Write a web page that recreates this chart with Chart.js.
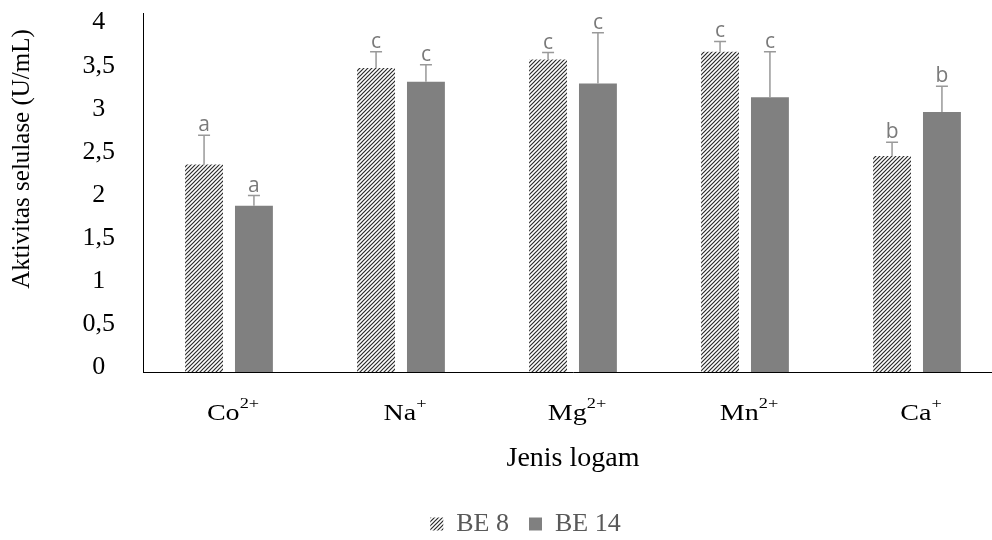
<!DOCTYPE html>
<html>
<head>
<meta charset="utf-8">
<script src="https://cdn.jsdelivr.net/npm/chart.js@4.4.1/dist/chart.umd.min.js"></script>
<style>
  html, body { margin: 0; padding: 0; background: #fff; overflow: hidden; }
  #wrap { width: 1050px; height: 540px; }
</style>
</head>
<body>
<div id="wrap"><canvas id="chart" width="1050" height="540"></canvas></div>
<script>
const metals = ['Co', 'Na', 'Mg', 'Mn', 'Ca'];
const charges = ['2+', '+', '2+', '2+', '+'];
const be8 = [2.41, 3.53, 3.63, 3.72, 2.51];
const be8Err = [0.34, 0.19, 0.08, 0.12, 0.16];
const be8Letters = ['a', 'c', 'c', 'c', 'b'];
const be14 = [1.93, 3.37, 3.35, 3.19, 3.02];
const be14Err = [0.12, 0.20, 0.59, 0.53, 0.30];
const be14Letters = ['a', 'c', 'c', 'c', 'b'];
const yTicks = [0, 0.5, 1, 1.5, 2, 2.5, 3, 3.5, 4];
const yTitle = 'Aktivitas selulase (U/mL)';

const supMap = { '2': '\u00B2', '+': '\u207A' };
const labels = metals.map((m, i) => m + charges[i].split('').map(c => supMap[c]).join(''));

function makeHatch() {
    const c = document.createElement('canvas');
    c.width = 4;
    c.height = 4;
    const g = c.getContext('2d');
    g.fillStyle = '#fff';
    g.fillRect(0, 0, 4, 4);
    g.strokeStyle = '#2b2b2b';
    g.lineWidth = 1.2;
    g.beginPath();
    g.moveTo(-1, 5); g.lineTo(5, -1);
    g.moveTo(-1, 1); g.lineTo(1, -1);
    g.moveTo(3, 5); g.lineTo(5, 3);
    g.stroke();
    return g.createPattern(c, 'repeat');
}

const hatch = makeHatch();

// fixed legend height, nudged right to sit where the original has it
const legendPlacePlugin = {
    id: 'legendPlace',
    beforeInit(chart) {
        const originalFit = chart.legend.fit;
        chart.legend.fit = function fit() {
            originalFit.bind(chart.legend)();
            this.height = 49;
        };
        const originalDraw = chart.legend.draw;
        chart.legend.draw = function draw() {
            chart.ctx.save();
            chart.ctx.translate(24, 0);
            originalDraw.apply(chart.legend, arguments);
            chart.ctx.restore();
        };
    }
};

// error bars + letters
const errorBarPlugin = {
    id: 'errorBars',
    afterDatasetsDraw(chart) {
        const ctx = chart.ctx;
        const y = chart.scales.y;
        const errs = [be8Err, be14Err];
        const letters = [be8Letters, be14Letters];
        ctx.save();
        chart.data.datasets.forEach((ds, di) => {
            const meta = chart.getDatasetMeta(di);
            meta.data.forEach((bar, i) => {
                const top = y.getPixelForValue(ds.data[i] + errs[di][i]);
                ctx.strokeStyle = '#999';
                ctx.lineWidth = 1.5;
                ctx.beginPath();
                ctx.moveTo(bar.x, bar.y);
                ctx.lineTo(bar.x, top);
                ctx.moveTo(bar.x - 6, top);
                ctx.lineTo(bar.x + 6, top);
                ctx.stroke();
                ctx.fillStyle = '#7a7a7a';
                ctx.font = '21px "Open Sans"';
                ctx.textAlign = 'center';
                ctx.textBaseline = 'alphabetic';
                ctx.fillText(letters[di][i], bar.x, top - 4);
            });
        });
        ctx.restore();
    }
};

// category labels with superscript charges, y title
const textPlugin = {
    id: 'texts',
    afterDraw(chart) {
        const ctx = chart.ctx;
        const x = chart.scales.x;
        ctx.save();
        ctx.fillStyle = '#000';
        ctx.textBaseline = 'alphabetic';
        ctx.textAlign = 'left';
        const sx = 1.22;
        metals.forEach((m, i) => {
            ctx.font = '23px "Liberation Serif"';
            const w1 = ctx.measureText(m).width;
            ctx.font = '15px "Liberation Serif"';
            const w2 = ctx.measureText(charges[i]).width;
            const cx = x.getPixelForValue(i) + 4;
            ctx.save();
            ctx.translate(cx, 0);
            ctx.scale(sx, 1);
            const left = -(w1 + w2) / 2;
            ctx.font = '23px "Liberation Serif"';
            ctx.fillText(m, left, 420);
            ctx.font = '15px "Liberation Serif"';
            ctx.fillText(charges[i], left + w1, 408);
            ctx.restore();
        });
        ctx.save();
        ctx.translate(22, 159);
        ctx.rotate(-Math.PI / 2);
        ctx.textAlign = 'center';
        ctx.textBaseline = 'middle';
        ctx.font = '25px "Liberation Serif"';
        ctx.fillText(yTitle, 0, 0);
        ctx.restore();
        ctx.restore();
    }
};

Chart.register(legendPlacePlugin, errorBarPlugin, textPlugin);

new Chart(document.getElementById('chart'), {
    type: 'bar',
    data: {
        labels: labels,
        datasets: [{
            label: 'BE 8',
            data: be8,
            backgroundColor: hatch,
            borderWidth: 0
        }, {
            label: 'BE 14',
            data: be14,
            backgroundColor: '#808080',
            borderWidth: 0
        }]
    },
    options: {
        responsive: false,
        animation: false,
        events: [],
        layout: { padding: { top: 13, right: 47, left: 0, bottom: 0 } },
        datasets: {
            bar: { categoryPercentage: 0.58, barPercentage: 0.76 }
        },
        scales: {
            x: {
                grid: { display: false },
                border: { display: true, color: '#000', width: 1 },
                ticks: { display: false },
                title: {
                    display: true,
                    text: 'Jenis logam',
                    color: '#000',
                    font: { family: 'Liberation Serif', size: 28 },
                    padding: 16
                },
                afterFit(scale) {
                    scale.height = scale.chart.height - 372 - 49;
                }
            },
            y: {
                min: 0,
                max: 4.17,
                afterBuildTicks(scale) {
                    scale.ticks = yTicks.map(v => ({ value: v }));
                },
                grid: { display: false, drawTicks: false },
                border: { display: true, color: '#000', width: 1 },
                ticks: {
                    color: '#000',
                    crossAlign: 'center',
                    padding: 28,
                    labelOffset: -5,
                    font: { family: 'Liberation Serif', size: 26 },
                    callback: v => String(v).replace('.', ',')
                },
                afterFit(scale) {
                    scale.width = 143;
                    scale.paddingTop = 0;
                    scale.paddingBottom = 0;
                }
            }
        },
        plugins: {
            tooltip: { enabled: false },
            legend: {
                position: 'bottom',
                labels: {
                    color: '#595959',
                    font: { family: 'Liberation Serif', size: 26 },
                    boxWidth: 13,
                    boxHeight: 13,
                    padding: 20
                }
            }
        }
    }
});
</script>
</body>
</html>
